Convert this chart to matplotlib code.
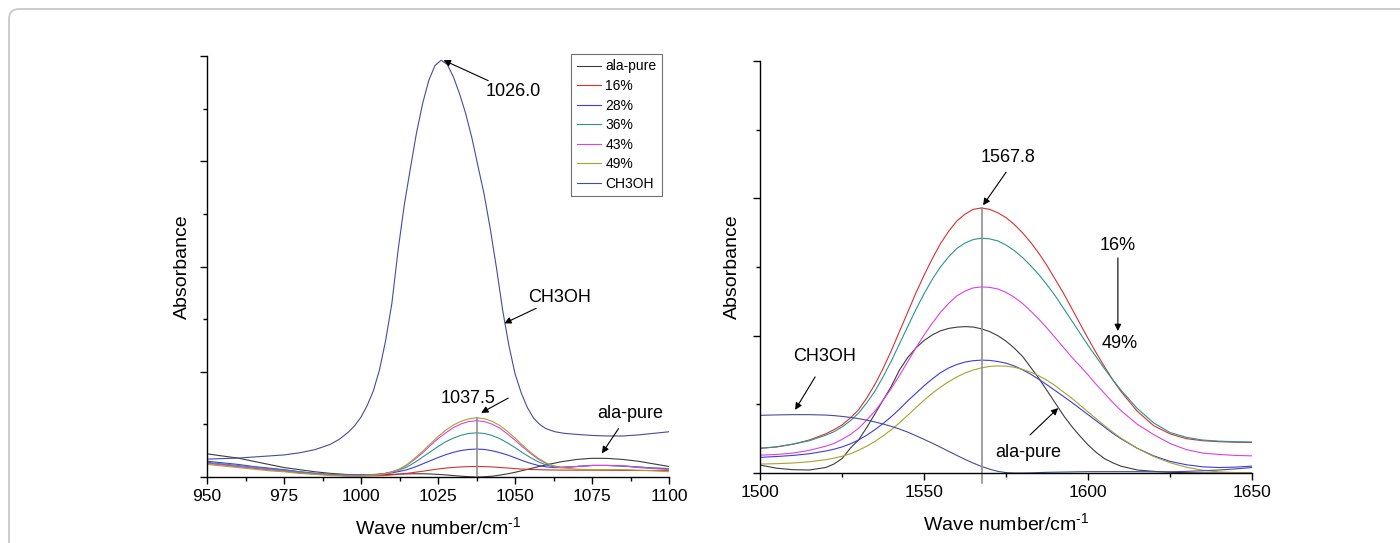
import numpy as np
import matplotlib.pyplot as plt
from matplotlib.patches import FancyBboxPatch
from matplotlib.ticker import MultipleLocator

plt.rcParams['font.family'] = ['Liberation Sans', 'DejaVu Sans']
plt.rcParams['mathtext.fontset'] = 'custom'
plt.rcParams['mathtext.rm'] = 'Liberation Sans'

# ---------------- data (arbitrary absorbance units) ----------------
labels = ['ala-pure', '16%', '28%', '36%', '43%', '49%', 'CH3OH']
colors = ['#3c3c3c', '#d83030', '#3c3ce2', '#2a9590', '#e040e0', '#a5a528', '#4a4a9c']

# left panel, 950-1100 cm-1
wl = [950, 955, 960, 965, 970, 975, 980, 985, 990, 995, 1000, 1005,
      1007.5, 1010, 1012.5, 1015, 1017.5, 1020, 1022.5, 1025, 1027.5, 1030, 1032.5, 1035,
      1037.5, 1040, 1042.5, 1045, 1047.5, 1050, 1052.5, 1055, 1057.5, 1060, 1062.5, 1065,
      1070, 1075, 1080, 1085, 1090, 1095, 1100]
l_ala = [0.22, 0.20, 0.18, 0.15, 0.12, 0.09, 0.07, 0.05, 0.035, 0.025, 0.02, 0.02,
         0.022, 0.025, 0.028, 0.03, 0.031, 0.031, 0.029, 0.025, 0.02, 0.014, 0.008, 0.003,
         0.0, 0.002, 0.008, 0.018, 0.03, 0.045, 0.062, 0.08, 0.098, 0.115, 0.13, 0.145,
         0.167, 0.178, 0.177, 0.167, 0.15, 0.125, 0.10]
l_16 = [0.13, 0.12, 0.10, 0.085, 0.07, 0.055, 0.04, 0.03, 0.02, 0.012, 0.01, 0.012,
        0.015, 0.02, 0.027, 0.035, 0.045, 0.055, 0.066, 0.076, 0.085, 0.091, 0.096, 0.099,
        0.10, 0.099, 0.096, 0.091, 0.086, 0.08, 0.075, 0.072, 0.07, 0.068, 0.067, 0.066,
        0.065, 0.065, 0.064, 0.063, 0.062, 0.061, 0.06]
l_28 = [0.15, 0.135, 0.12, 0.10, 0.085, 0.07, 0.05, 0.035, 0.025, 0.02, 0.02, 0.025,
        0.03, 0.04, 0.053, 0.07, 0.095, 0.125, 0.155, 0.185, 0.212, 0.235, 0.252, 0.262,
        0.266, 0.262, 0.25, 0.232, 0.21, 0.183, 0.155, 0.13, 0.11, 0.097, 0.09, 0.09,
        0.10, 0.11, 0.11, 0.105, 0.095, 0.085, 0.08]
l_36 = [0.14, 0.125, 0.11, 0.095, 0.08, 0.065, 0.05, 0.035, 0.025, 0.02, 0.02, 0.025,
        0.033, 0.047, 0.067, 0.097, 0.14, 0.19, 0.24, 0.29, 0.335, 0.37, 0.397, 0.414,
        0.42, 0.414, 0.395, 0.365, 0.325, 0.28, 0.23, 0.185, 0.145, 0.115, 0.097, 0.09,
        0.10, 0.11, 0.11, 0.105, 0.095, 0.085, 0.08]
l_43 = [0.13, 0.115, 0.10, 0.085, 0.07, 0.055, 0.04, 0.03, 0.02, 0.015, 0.015, 0.022,
        0.032, 0.05, 0.075, 0.115, 0.17, 0.23, 0.30, 0.365, 0.42, 0.47, 0.505, 0.527,
        0.535, 0.527, 0.503, 0.465, 0.41, 0.35, 0.285, 0.225, 0.17, 0.13, 0.105, 0.095,
        0.10, 0.11, 0.11, 0.105, 0.09, 0.08, 0.07]
l_49 = [0.12, 0.105, 0.09, 0.075, 0.06, 0.05, 0.035, 0.025, 0.015, 0.01, 0.01, 0.018,
        0.028, 0.045, 0.075, 0.12, 0.18, 0.245, 0.315, 0.385, 0.445, 0.495, 0.53, 0.553,
        0.563, 0.555, 0.53, 0.49, 0.435, 0.37, 0.30, 0.235, 0.18, 0.135, 0.105, 0.088,
        0.075, 0.07, 0.07, 0.07, 0.065, 0.06, 0.05]
wl_me = [950, 955, 960, 965, 970, 975, 980, 985, 990, 993, 996, 998, 1000, 1002, 1004, 1006,
         1008, 1010, 1012, 1014, 1016, 1018, 1020, 1022, 1024, 1026, 1028, 1030, 1032, 1034,
         1036, 1038, 1040, 1042, 1044, 1046, 1048, 1050, 1052, 1054, 1056, 1058, 1060, 1063,
         1066, 1070, 1075, 1080, 1085, 1090, 1095, 1100]
l_me = [0.17, 0.175, 0.18, 0.19, 0.20, 0.21, 0.23, 0.26, 0.31, 0.36, 0.43, 0.49, 0.57, 0.68,
        0.82, 1.02, 1.30, 1.65, 2.15, 2.58, 2.93, 3.27, 3.55, 3.77, 3.91, 3.96, 3.92, 3.80,
        3.64, 3.45, 3.22, 2.95, 2.68, 2.35, 1.98, 1.58, 1.25, 0.98, 0.80, 0.66, 0.56, 0.50,
        0.46, 0.43, 0.415, 0.405, 0.395, 0.39, 0.39, 0.40, 0.415, 0.43]

# right panel, 1500-1650 cm-1
wr = [1500, 1505, 1510, 1515,
      1520, 1522.5, 1525, 1527.5, 1530, 1532.5, 1535, 1537.5, 1540, 1542.5, 1545, 1547.5,
      1550, 1552.5, 1555, 1557.5, 1560, 1562.5, 1565, 1567.5, 1570, 1572.5, 1575, 1577.5,
      1580, 1582.5, 1585, 1587.5, 1590, 1592.5, 1595, 1597.5, 1600, 1602.5, 1605, 1607.5,
      1610, 1615, 1620, 1625, 1630, 1635, 1640, 1645, 1650]
r_ala = [0.058, 0.035, 0.024, 0.022,
         0.04, 0.065, 0.105, 0.18, 0.24, 0.33, 0.43, 0.53, 0.63, 0.75, 0.84, 0.91,
         0.965, 1.005, 1.035, 1.053, 1.062, 1.066, 1.063, 1.05, 1.03, 1.0, 0.96, 0.91,
         0.85, 0.77, 0.69, 0.60, 0.51, 0.42, 0.34, 0.27, 0.205, 0.15, 0.105, 0.075,
         0.05, 0.022, 0.012, 0.005, 0.002, 0.0, 0.0, 0.0, 0.0]
r_16 = [0.18, 0.19, 0.21, 0.24,
        0.285, 0.315, 0.35, 0.40, 0.46, 0.545, 0.645, 0.76, 0.89, 1.03, 1.17, 1.31,
        1.44, 1.56, 1.67, 1.76, 1.835, 1.885, 1.92, 1.93, 1.92, 1.895, 1.86, 1.81,
        1.75, 1.68, 1.60, 1.51, 1.41, 1.31, 1.20, 1.09, 0.98, 0.875, 0.775, 0.68,
        0.595, 0.45, 0.345, 0.285, 0.25, 0.235, 0.228, 0.224, 0.222]
r_28 = [0.114, 0.12, 0.128, 0.14,
        0.16, 0.173, 0.19, 0.212, 0.24, 0.275, 0.315, 0.36, 0.41, 0.465, 0.525, 0.58,
        0.635, 0.685, 0.73, 0.765, 0.79, 0.808, 0.818, 0.822, 0.82, 0.812, 0.80, 0.78,
        0.752, 0.72, 0.682, 0.642, 0.60, 0.558, 0.515, 0.47, 0.425, 0.38, 0.335, 0.29,
        0.25, 0.18, 0.125, 0.085, 0.06, 0.045, 0.04, 0.043, 0.05]
r_36 = [0.18, 0.19, 0.21, 0.235,
        0.275, 0.30, 0.335, 0.38, 0.435, 0.51, 0.595, 0.70, 0.815, 0.94, 1.065, 1.19,
        1.305, 1.41, 1.50, 1.575, 1.635, 1.675, 1.70, 1.71, 1.705, 1.69, 1.66, 1.62,
        1.57, 1.51, 1.445, 1.37, 1.29, 1.20, 1.11, 1.02, 0.93, 0.845, 0.76, 0.68,
        0.605, 0.47, 0.365, 0.295, 0.26, 0.24, 0.232, 0.228, 0.226]
r_43 = [0.13, 0.135, 0.145, 0.165,
        0.195, 0.215, 0.245, 0.28, 0.325, 0.385, 0.45, 0.53, 0.615, 0.71, 0.81, 0.91,
        1.005, 1.09, 1.17, 1.235, 1.29, 1.325, 1.348, 1.355, 1.352, 1.34, 1.315, 1.28,
        1.235, 1.18, 1.12, 1.055, 0.985, 0.915, 0.845, 0.78, 0.715, 0.645, 0.58, 0.515,
        0.455, 0.355, 0.28, 0.215, 0.17, 0.145, 0.135, 0.128, 0.125]
r_49 = [0.065, 0.068, 0.073, 0.082,
        0.097, 0.108, 0.122, 0.14, 0.165, 0.195, 0.23, 0.27, 0.315, 0.365, 0.42, 0.475,
        0.53, 0.58, 0.625, 0.665, 0.70, 0.728, 0.75, 0.766, 0.776, 0.78, 0.778, 0.77,
        0.755, 0.735, 0.708, 0.675, 0.635, 0.59, 0.545, 0.495, 0.445, 0.395, 0.345, 0.298,
        0.255, 0.18, 0.12, 0.075, 0.042, 0.02, 0.008, 0.003, 0.0]
r_me = [0.42, 0.423, 0.425, 0.425,
        0.422, 0.418, 0.412, 0.405, 0.396, 0.385, 0.372, 0.357, 0.34, 0.32, 0.298, 0.272,
        0.245, 0.217, 0.188, 0.158, 0.128, 0.099, 0.072, 0.048, 0.028, 0.012, 0.003, 0.0,
        0.0, 0.001, 0.003, 0.005, 0.006, 0.007, 0.008, 0.009, 0.01, 0.01, 0.01, 0.01,
        0.01, 0.01, 0.009, 0.009, 0.012, 0.016, 0.022, 0.03, 0.04]

left_series = [(wl, l_ala), (wl, l_16), (wl, l_28), (wl, l_36), (wl, l_43), (wl, l_49), (wl_me, l_me)]
right_series = [(wr, r_ala), (wr, r_16), (wr, r_28), (wr, r_36), (wr, r_43), (wr, r_49), (wr, r_me)]

# ---------------- figure ----------------
fig = plt.figure(figsize=(14, 5.43), dpi=100)
frame = FancyBboxPatch((0.09, -0.5), 14.5, 5.84, boxstyle='round,pad=0,rounding_size=0.1',
                       transform=fig.dpi_scale_trans, fc='none', ec='#c8c8c8', lw=1.3)
fig.patches.append(frame)

axL = fig.add_axes([0.1479, 0.1215, 0.330, 0.7753])
axR = fig.add_axes([0.5429, 0.1289, 0.3514, 0.7587])

for (x, y), lab, c in zip(left_series, labels, colors):
    axL.plot(x, y, color=c, lw=0.8, label=lab)
for (x, y), lab, c in zip(right_series, labels, colors):
    axR.plot(x, y, color=c, lw=0.8, label=lab)

axL.plot([1037.5, 1037.5], [0, 0.563], color='#909090', lw=1.2)
axR.plot([1567.8, 1567.8], [-0.07, 1.93], color='#909090', lw=1.2, clip_on=False)

axL.set_xlim(950, 1100)
axL.set_ylim(0, 4)
axR.set_xlim(1500, 1650)
axR.set_ylim(0, 3)

for ax, xmaj, ypad in ((axL, 25, 5.5), (axR, 50, 7.5)):
    for s in ('top', 'right'):
        ax.spines[s].set_visible(False)
    for s in ('left', 'bottom'):
        ax.spines[s].set_linewidth(1.0)
    ax.xaxis.set_major_locator(MultipleLocator(xmaj))
    ax.xaxis.set_minor_locator(MultipleLocator(xmaj / 2))
    ax.yaxis.set_major_locator(MultipleLocator(1))
    ax.yaxis.set_minor_locator(MultipleLocator(0.5))
    ax.tick_params(which='major', direction='out', length=5, width=1.0, labelsize=12.5)
    ax.tick_params(which='minor', direction='out', length=3, width=1.0)
    ax.tick_params(axis='y', labelleft=False)
    ax.set_xlabel(r'Wave number/cm$^{\text{-}1}$', fontsize=14, labelpad=9)
    ax.set_ylabel('Absorbance', fontsize=14, labelpad=ypad)

leg = axL.legend(loc='upper right', bbox_to_anchor=(0.985, 1.005), fontsize=10,
                 frameon=True, fancybox=False, edgecolor='#707070', framealpha=1,
                 handlelength=1.7, handletextpad=0.35, labelspacing=0.4, borderpad=0.4,
                 borderaxespad=0)
leg.get_frame().set_linewidth(0.8)

arrow = dict(arrowstyle='-|>', color='black', lw=0.8, shrinkA=0, shrinkB=0, mutation_scale=10)
fs = 13
axL.annotate('1026.0', xy=(1026.8, 3.96), xytext=(1040.3, 3.74), arrowprops=arrow, fontsize=fs,
             ha='left', va='top')
axL.annotate('CH3OH', xy=(1046.5, 1.46), xytext=(1054.4, 1.71), arrowprops=arrow, fontsize=fs,
             ha='left', va='center')
axL.annotate('', xy=(1039.0, 0.61), xytext=(1047.8, 0.75), arrowprops=arrow)
axL.text(1034.8, 0.745, '1037.5', fontsize=fs, ha='center', va='center')
axL.annotate('', xy=(1078.2, 0.225), xytext=(1083.6, 0.46), arrowprops=arrow)
axL.text(1087.4, 0.608, 'ala-pure', fontsize=fs, ha='center', va='center')

axR.annotate('', xy=(1568.0, 1.95), xytext=(1575.0, 2.19), arrowprops=arrow)
axR.text(1575.6, 2.30, '1567.8', fontsize=fs, ha='center', va='center')
axR.annotate('', xy=(1609.1, 1.034), xytext=(1609.1, 1.566), arrowprops=arrow)
axR.text(1609.1, 1.66, '16%', fontsize=fs, ha='center', va='center')
axR.text(1609.8, 0.94, '49%', fontsize=fs, ha='center', va='center')
axR.annotate('', xy=(1510.7, 0.46), xytext=(1516.8, 0.70), arrowprops=arrow)
axR.text(1519.8, 0.845, 'CH3OH', fontsize=fs, ha='center', va='center')
axR.annotate('', xy=(1590.9, 0.473), xytext=(1582.3, 0.277), arrowprops=arrow)
axR.text(1581.7, 0.146, 'ala-pure', fontsize=fs, ha='center', va='center')

fig.savefig('out.png', dpi=100)
